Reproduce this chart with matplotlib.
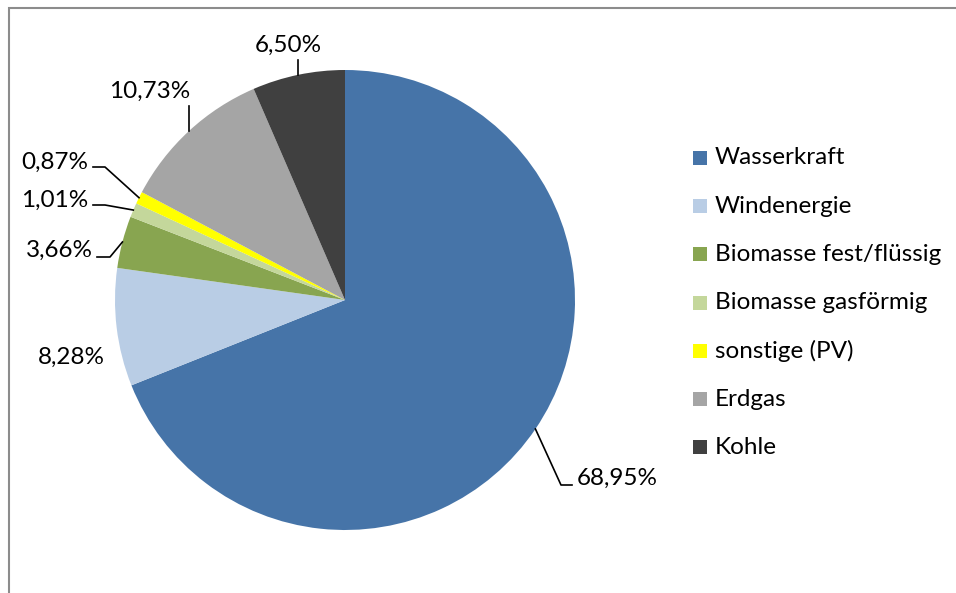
import numpy as np
import matplotlib
matplotlib.use("Agg")
import matplotlib.pyplot as plt
from matplotlib.patches import Rectangle

plt.rcParams['font.family'] = ['Lato', 'DejaVu Sans']

# data
categories = ["Wasserkraft", "Windenergie", "Biomasse fest/flüssig",
              "Biomasse gasförmig", "sonstige (PV)", "Erdgas", "Kohle"]
shares = [68.95, 8.28, 3.66, 1.01, 0.87, 10.73, 6.50]
colors = ["#4674A8", "#B9CDE5", "#88A550", "#C4D79B", "#FFFF00", "#A5A5A5", "#404040"]

W, H = 956, 593
fig = plt.figure(figsize=(W / 100, H / 100), dpi=100)
ax = fig.add_axes([0, 0, 1, 1])

cx, cy, r = 345, 300, 230
# y axis runs downward (pixel-like), so counterclock in data = clockwise on screen
wedges, _ = ax.pie(shares, colors=colors, startangle=-90, counterclock=True,
                   center=(cx, cy), radius=r, wedgeprops=dict(linewidth=0))
ax.set_xlim(0, W)
ax.set_ylim(H, 0)
ax.set_aspect('auto')
ax.axis('off')

fs = 17.5

def edge_point(w):
    mid = np.deg2rad((w.theta1 + w.theta2) / 2)
    return cx + r * np.cos(mid), cy + r * np.sin(mid)

# label layout: text pos, ha, leader elbow points (after edge point)
layout = {
    "Wasserkraft":           ((577, 478), "left",  [(561, 485), (572, 485)]),
    "Windenergie":           ((71, 357),  "center", None),
    "Biomasse fest/flüssig": ((93, 250),  "right", [(110, 257), (97, 257)]),
    "Biomasse gasförmig":    ((88, 200),  "right", [(105, 205), (93, 205)]),
    "sonstige (PV)":         ((88, 162),  "right", [(105, 167), (93, 167)]),
    "Erdgas":                ((150, 91),  "center", "up"),
    "Kohle":                 ((288, 45),  "center", "up"),
}

for w, cat, val in zip(wedges, categories, shares):
    (tx, ty), ha, leader = layout[cat]
    ex, ey = edge_point(w)
    if leader == "up":
        ax.plot([ex, ex], [ey, ty + 15], color="black", lw=1.2)
    elif leader is not None:
        xs = [ex] + [p[0] for p in leader]
        ys = [ey] + [p[1] for p in leader]
        ax.plot(xs, ys, color="black", lw=1.2)
    label = f"{val:.2f}%".replace(".", ",")
    ax.text(tx, ty, label, ha=ha, va="center", fontsize=fs, color="black")

# legend
for i, (cat, c) in enumerate(zip(categories, colors)):
    y = 158 + i * 48.2
    ax.add_patch(Rectangle((693, y - 7), 14, 14, facecolor=c, edgecolor="none"))
    ax.text(715, y, cat, ha="left", va="center", fontsize=fs, color="black")

# chart frame (cropped: only left and top visible)
ax.plot([9.5, 9.5, W], [H, 8, 8], color="#8C8C8C", lw=1.5, solid_joinstyle="miter")

fig.savefig("out.png", dpi=100)
